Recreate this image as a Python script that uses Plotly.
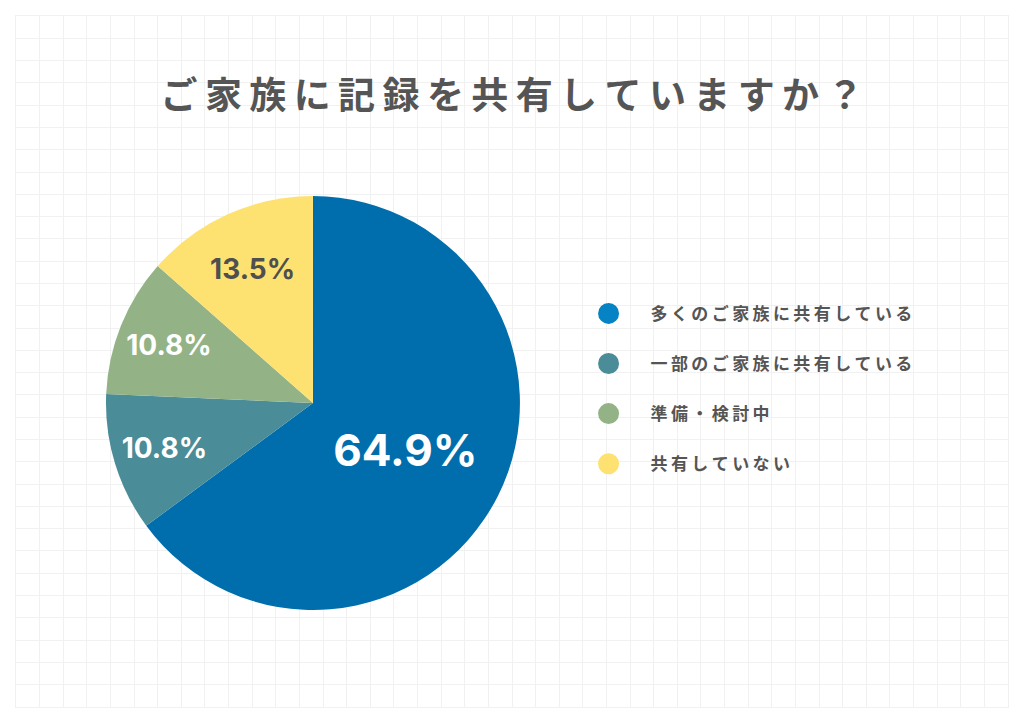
import plotly.graph_objects as go

#---DATA---
labels = ['多くのご家族に共有している', '一部のご家族に共有している', '準備・検討中', '共有していない']
values = [64.9, 10.8, 10.8, 13.5]
pie_colors = ['#006eac', '#4a8c97', '#93b386', '#fde272']
legend_colors = ['#0583c4', '#4a8c97', '#93b386', '#fde272']
text_colors = ['#ffffff', '#ffffff', '#ffffff', '#4f4f4f']
text_sizes = [44, 28, 28, 28]

title_text = 'ご家族に記録を共有していますか？'
FONT = 'Noto Sans CJK JP'
NUM_FONT = 'Inter'

#the page has an 8px body margin, so the figure is drawn 16px smaller
W, H = 1008, 708

fig = go.Figure()

#invisible trace so the background grid axes get drawn
fig.add_trace(go.Scatter(x=[0, 42], y=[0, 31], mode='markers',
                         marker_opacity=0, showlegend=False, hoverinfo='skip'))

#the pie itself
fig.add_trace(go.Pie(
    labels=labels,
    values=values,
    sort=False,
    direction='clockwise',
    rotation=0,
    marker=dict(colors=pie_colors, line=dict(width=0)),
    texttemplate='%{value:.1f}%',
    textposition='inside',
    insidetextorientation='horizontal',
    textfont=dict(family=NUM_FONT, color=text_colors, size=text_sizes, weight='bold'),
    showlegend=False,
    domain=dict(x=[0.0907, 0.508], y=[0.1404, 0.7395])))

#legend with round markers (thin spaces widen the letter spacing)
for i, lab in enumerate(labels):
    fig.add_trace(go.Scatter(
        x=[None], y=[None], mode='markers', name='\u2009'.join(lab),
        legendgroup=str(i),
        marker=dict(color=legend_colors[i], size=16, symbol='circle',
                    line=dict(color=legend_colors[i], width=5))))

#spaced-out title
spaced_title = '\u2009'.join(title_text)

fig.update_layout(
    width=W, height=H,
    margin=dict(l=8, r=8, t=8, b=9),
    plot_bgcolor='white', paper_bgcolor='white',
    font=dict(family=FONT, color='#555555'),
    title=dict(text=spaced_title, x=0.5, xref='paper', xanchor='center',
               y=1 - 88 / H, yref='container', yanchor='middle',
               font=dict(family=FONT, size=37, color='#555555', weight='bold')),
    legend=dict(x=0.555, y=0.595, xanchor='left', yanchor='top',
                itemsizing='trace', itemwidth=74, tracegroupgap=25,
                font=dict(family=FONT, size=17, color='#555555', weight='bold'),
                bgcolor='rgba(0,0,0,0)'),
    hovermode=False)

#grid
fig.update_xaxes(range=[0, 42], dtick=1, showgrid=True, gridcolor='#f1f1f1', gridwidth=1.3,
                 showticklabels=False, zeroline=False, showline=True, linecolor='#f1f1f1',
                 linewidth=1.3, mirror=True, ticks='', fixedrange=True)
fig.update_yaxes(range=[0, 31], dtick=1, showgrid=True, gridcolor='#f1f1f1', gridwidth=1.3,
                 showticklabels=False, zeroline=False, showline=True, linecolor='#f1f1f1',
                 linewidth=1.3, mirror=True, ticks='', fixedrange=True)

fig.write_html('out.html')
